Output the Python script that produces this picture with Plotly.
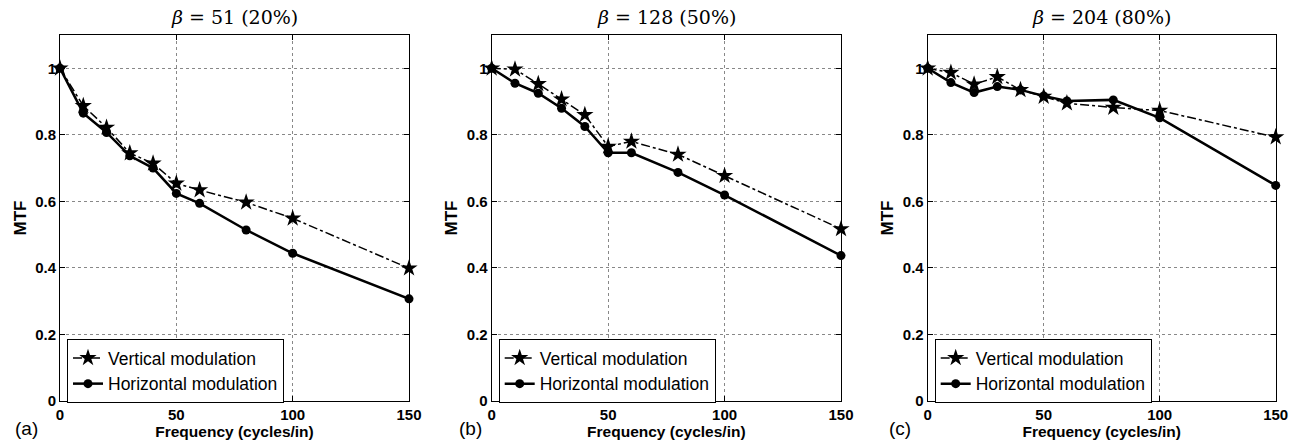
import plotly.graph_objects as go

freq = [0, 10, 20, 30, 40, 50, 60, 80, 100, 150]

vert_a = [1.0, 0.887, 0.822, 0.745, 0.714, 0.654, 0.634, 0.597, 0.549, 0.399]
horz_a = [1.0, 0.865, 0.807, 0.737, 0.700, 0.624, 0.594, 0.514, 0.444, 0.307]

vert_b = [1.0, 0.997, 0.953, 0.907, 0.860, 0.765, 0.780, 0.741, 0.677, 0.517]
horz_b = [1.0, 0.955, 0.925, 0.880, 0.825, 0.746, 0.746, 0.687, 0.619, 0.437]

vert_c = [1.0, 0.987, 0.952, 0.974, 0.935, 0.915, 0.895, 0.882, 0.873, 0.793]
horz_c = [1.0, 0.957, 0.927, 0.945, 0.935, 0.917, 0.902, 0.905, 0.851, 0.648]

titles = ["<i>β</i> = 51 (20%)", "<i>β</i> = 128 (50%)", "<i>β</i> = 204 (80%)"]
panel_labels = ["(a)", "(b)", "(c)"]
series_names = ["Vertical modulation", "Horizontal modulation"]
x_ticks = [0, 50, 100, 150]
y_ticks = [0, 0.2, 0.4, 0.6, 0.8, 1.0]
y_tick_text = ["0", "0.2", "0.4", "0.6", "0.8", "1"]

W, H = 1299, 444
left_px = [60, 491.7, 927.7]
right_px = [409, 841, 1275.7]
label_px = [13, 457, 887]
top_px, bot_px = 35, 401

fig = go.Figure()
data = [(vert_a, horz_a), (vert_b, horz_b), (vert_c, horz_c)]
for i, (v, h) in enumerate(data):
    n = "" if i == 0 else str(i + 1)
    leg = "legend" + n
    fig.add_trace(go.Scatter(
        x=freq, y=v, name=series_names[0], mode="lines+markers",
        line=dict(color="black", width=1.5, dash="dashdot"),
        marker=dict(symbol="star", size=13, color="black"),
        xaxis="x" + n, yaxis="y" + n, legend=leg, cliponaxis=False))
    fig.add_trace(go.Scatter(
        x=freq, y=h, name=series_names[1], mode="lines+markers",
        line=dict(color="black", width=2.5),
        marker=dict(symbol="circle", size=9, color="black"),
        xaxis="x" + n, yaxis="y" + n, legend=leg, cliponaxis=False))

layout = dict(
    width=W, height=H, margin=dict(l=0, r=0, t=0, b=0),
    paper_bgcolor="white", plot_bgcolor="white",
    font=dict(family="Liberation Sans, Arial, sans-serif", color="black"),
)
annotations = []
for i in range(3):
    n = "" if i == 0 else str(i + 1)
    dom_x = [left_px[i] / W, right_px[i] / W]
    dom_y = [1 - bot_px / H, 1 - top_px / H]
    layout["xaxis" + n] = dict(
        domain=dom_x, range=[0, 150], anchor="y" + n,
        tickvals=x_ticks, ticks="inside", ticklen=5, tickcolor="black",
        showline=True, linecolor="black", linewidth=1, mirror="ticks",
        showgrid=True, gridcolor="#888888", griddash="dot", gridwidth=1,
        zeroline=False, automargin=False,
        tickfont=dict(size=15, family="Liberation Sans, Arial", weight="bold"),
        title=dict(text="<b>Frequency (cycles/in)</b>", font=dict(size=15.5), standoff=2),
    )
    layout["yaxis" + n] = dict(
        domain=dom_y, range=[0, 1.1], anchor="x" + n,
        tickvals=y_ticks, ticktext=y_tick_text, ticks="inside", ticklen=5, tickcolor="black",
        showline=True, linecolor="black", linewidth=1, mirror="ticks",
        showgrid=True, gridcolor="#888888", griddash="dot", gridwidth=1,
        zeroline=False, automargin=False,
        tickfont=dict(size=15, family="Liberation Sans, Arial", weight="bold"),
        title=dict(text="<b>MTF</b>", font=dict(size=17), standoff=4),
    )
    leg = "legend" + n
    layout[leg] = dict(
        x=(left_px[i] + 7) / W, y=1 - 339 / H, xanchor="left", yanchor="top",
        bgcolor="white", bordercolor="black", borderwidth=1,
        font=dict(size=17.5, family="Liberation Sans, Arial"),
        tracegroupgap=0, itemwidth=30,
    )
    annotations.append(dict(
        text=titles[i], x=(left_px[i] + right_px[i]) / 2 / W, y=1 - 17 / H,
        xref="paper", yref="paper", showarrow=False, xanchor="center", yanchor="middle",
        font=dict(size=19, family="DejaVu Serif, Liberation Serif, serif")))
    annotations.append(dict(
        text=panel_labels[i], x=label_px[i] / W, y=1 - 428 / H,
        xref="paper", yref="paper", showarrow=False, xanchor="left", yanchor="middle",
        font=dict(size=19, family="Liberation Sans, Arial")))
layout["annotations"] = annotations
fig.update_layout(**layout)
fig.write_html("out.html")
